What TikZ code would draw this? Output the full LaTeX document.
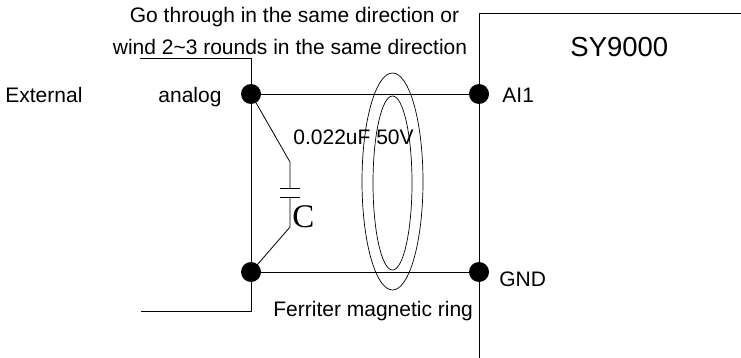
\documentclass[tikz,border=0pt]{standalone}
\usepackage{fontspec}
\setmainfont{Liberation Sans}
\newfontfamily\capfont{Liberation Serif}

\begin{document}
\begin{tikzpicture} [
        x = 1pt, y = -1pt,
        line width = 0.8pt,
        dot/.style = { circle, fill, inner sep = 0, minimum size = 20pt },
        lbl/.style = { inner sep = 0, font = \fontsize{21}{25}\selectfont },
        ring/.style = { line width = 0.7pt }
        ]
        \useasboundingbox (0,0) rectangle (741,358);

        % terminals
        \node [dot] (ail) at (251,94) {};
        \node [dot] (air) at (479,94) {};
        \node [dot] (gndl) at (251,272) {};
        \node [dot] (gndr) at (479,272) {};

        % labels
        \node [lbl, anchor = base] (note1) at (294.5,23) {Go through in the same direction or};
        \node [lbl, anchor = base] (note2) at (290,55) {wind 2\textasciitilde3 rounds in the same direction};
        \node [lbl, anchor = base west] (ext) at (5,103) {External};
        \node [lbl, anchor = base west] (ana) at (158,103) {analog};
        \node [lbl, anchor = base west] (ai1) at (502,103) {AI1};
        \node [lbl, anchor = base west] (gnd) at (499,286) {GND};
        \node [lbl, anchor = base west, font = \fontsize{27.5}{32}\selectfont] (sy) at (570,57) {SY9000};
        \node [lbl, anchor = base west] (capv) at (293,145) {0.022uF 50V};
        \node [lbl, anchor = base west, font = \capfont\fontsize{33}{38}\selectfont] (capc) at (292,227) {C};
        \node [lbl, anchor = base west] (ferr) at (273,316) {Ferriter magnetic ring};

        % outer leads
        \coordinate (ina) at (140,58);
        \coordinate (inb) at (141,311);
        \draw (ina) -- (ail.center |- ina) -- (ail.center);
        \draw (inb) -- (gndl.center |- inb) -- (gndl.center);

        % wires
        \draw (ail.center) -- (air.center);
        \draw (gndl.center) -- (gndr.center);
        \draw (ail.center) -- (gndl.center);

        % drive box
        \coordinate (boxa) at (741,13);
        \coordinate (boxb) at (479,358);
        \draw (boxa) -- (boxb |- boxa) -- (boxb);

        % capacitor
        \coordinate (c1) at (290,162);
        \coordinate (c2) at (290,188);
        \coordinate (c3) at (290,197);
        \coordinate (c4) at (290,227);
        \draw (ail.center) -- (c1) -- (c2);
        \draw ([xshift=-10pt]c2) -- ([xshift=10pt]c2);
        \draw ([xshift=-10pt]c3) -- ([xshift=10pt]c3);
        \draw (c3) -- (c4) -- (gndl.center);

        % ferrite ring
        \draw [ring] (392.5,181.5) ellipse [x radius = 30.5, y radius = 108.5];
        \draw [ring] (392.5,183) ellipse [x radius = 19.5, y radius = 87];
    \end{tikzpicture}
\end{document}
